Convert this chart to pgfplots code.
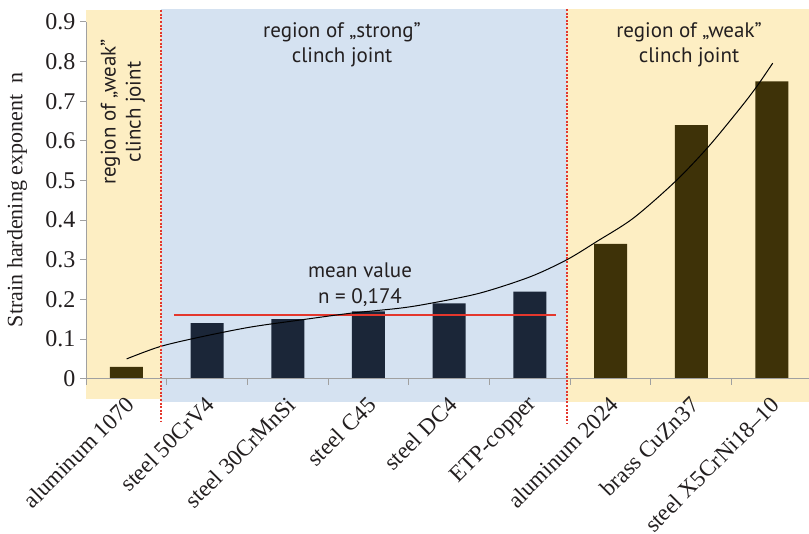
\documentclass[border=0pt]{standalone}
\usepackage{fontspec}
\setmainfont{Liberation Serif}
\newfontfamily\annofont{PT Sans}
\usepackage{pgfplots}
\pgfplotsset{compat=1.18}

\definecolor{brownbar}{RGB}{62,50,8}
\definecolor{navybar}{RGB}{27,38,56}
\definecolor{orangebg}{RGB}{253,238,195}
\definecolor{bluebg}{RGB}{213,226,241}
\definecolor{redline}{RGB}{228,55,45}
\definecolor{axisgray}{RGB}{160,160,160}
\definecolor{textcol}{RGB}{35,31,32}

\begin{document}
\begin{tikzpicture}
\begin{axis}[
    set layers, axis on top,
    scale only axis,
    width=723bp, height=356.7bp,
    xmin=-0.5, xmax=8.459,
    ymin=0, ymax=0.9,
    clip=false,
    axis x line*=bottom, axis y line*=left,
    axis line style={axisgray, line width=1bp},
    xtick={0,...,8},
    xticklabels={aluminum 1070, steel 50CrV4, steel 30CrMnSi, steel C45, steel DC4, ETP-copper, aluminum 2024, brass CuZn37, steel X5CrNi18--10},
    minor xtick={0.5,1.5,...,7.5},
    major x tick style={draw=none},
    minor tick length=6bp,
    ytick={0,0.1,...,0.9},
    major tick length=6bp,
    tick align=outside,
    tick style={axisgray, line width=1bp},
    /pgf/number format/assume math mode=true,
    yticklabel style={font=\fontsize{24bp}{24bp}\selectfont, text=textcol,
        /pgf/number format/fixed, /pgf/number format/precision=1, xshift=-1bp},
    xticklabel style={font=\fontsize{23bp}{23bp}\selectfont, text=textcol,
        xshift=6bp, yshift=-14bp, rotate=45, anchor=east},
]

\begin{pgfonlayer}{axis background}
  \fill[orangebg] (axis cs:-0.5,-0.051) rectangle (axis cs:0.43,0.930);
  \fill[bluebg] (axis cs:0.43,-0.058) rectangle (axis cs:5.465,0.933);
  \fill[orangebg] (axis cs:5.465,-0.059) rectangle (axis cs:8.459,0.933);
\end{pgfonlayer}

% bars
\addplot[ybar, bar width=33bp, bar shift=0pt, fill=brownbar, draw=none]
  coordinates {(0,0.03) (6,0.34) (7,0.64) (8,0.75)};
\addplot[ybar, bar width=33bp, bar shift=0pt, fill=navybar, draw=none]
  coordinates {(1,0.14) (2,0.15) (3,0.17) (4,0.19) (5,0.22)};

% mean value
\addplot[redline, line width=2bp] coordinates {(0.59,0.16) (5.32,0.16)};

% trend curve
\addplot[black, line width=1bp, smooth, tension=0.5] coordinates {
  (0.004,0.050) (0.417,0.081) (0.913,0.105) (1.532,0.130) (2.152,0.148)
  (2.771,0.165) (3.391,0.178) (3.763,0.190) (4.382,0.216) (5.002,0.257)
  (5.457,0.300) (5.828,0.346) (6.282,0.405) (6.799,0.497) (7.211,0.585)
  (7.604,0.682) (7.811,0.737) (8.009,0.796)};

% region borders
\draw[redline, line width=1.6bp, dash pattern=on 2bp off 1.6bp]
  (axis cs:0.429,0.930) -- (axis cs:0.429,-0.109);
\draw[redline, line width=1.6bp, dash pattern=on 2bp off 1.6bp]
  (axis cs:5.457,0.933) -- (axis cs:5.457,-0.114);
\draw[axisgray, line width=1bp] (axis cs:-0.5,0) -- (axis cs:-0.5,-0.0166);

% y label
\node[font=\fontsize{22bp}{22bp}\selectfont, text=textcol, rotate=90]
  at ([xshift=-69bp]axis cs:-0.5,0.451) {Strain hardening exponent\ \ n};

% annotations
\node[font=\annofont\fontsize{21bp}{25bp}\selectfont, text=textcol, align=center]
  at (axis cs:2.672,0.842) {region of „strong”\\clinch joint};
\node[font=\annofont\fontsize{21bp}{25bp}\selectfont, text=textcol, align=center]
  at (axis cs:6.972,0.842) {region of „weak”\\clinch joint};
\node[font=\annofont\fontsize{21bp}{25bp}\selectfont, text=textcol, align=center, rotate=90]
  at (axis cs:-0.042,0.673) {region of „weak”\\clinch joint};
\node[font=\annofont\fontsize{21bp}{26bp}\selectfont, text=textcol, align=center]
  at (axis cs:2.895,0.236) {mean value\\n = 0,174};
\end{axis}
\pgfresetboundingbox
\useasboundingbox ([xshift=-86bp,yshift=-155.3bp]current axis.south west)
  rectangle ([yshift=22bp]current axis.north east);
\end{tikzpicture}
\end{document}
